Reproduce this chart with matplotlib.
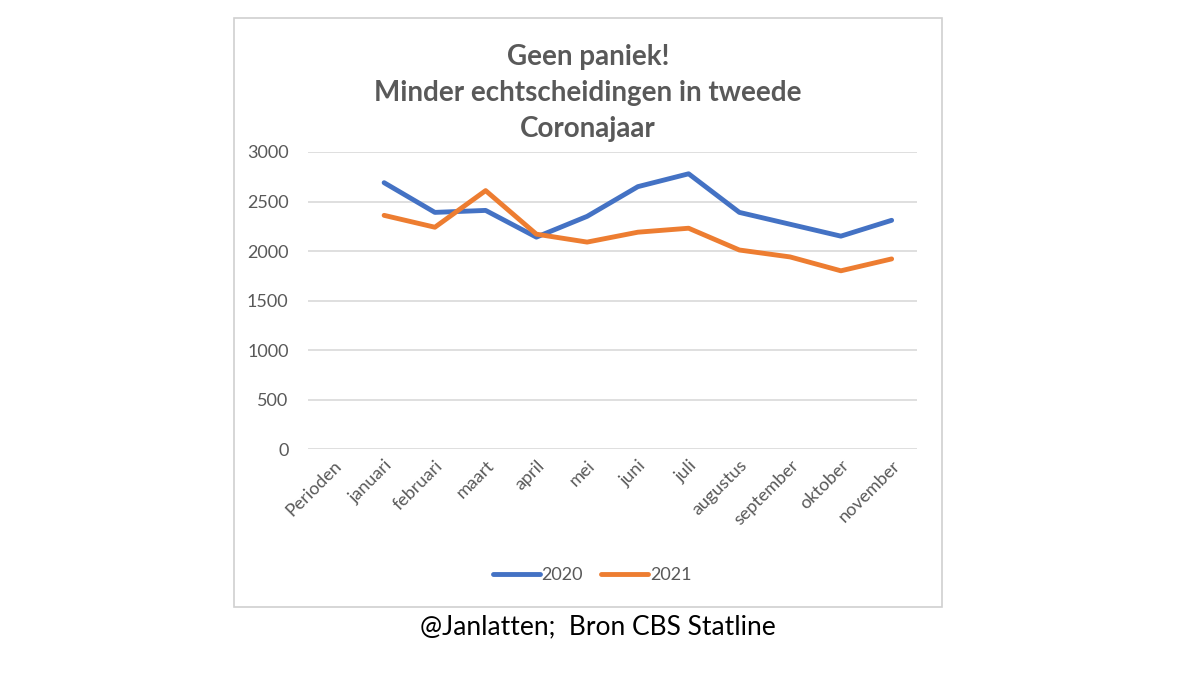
import numpy as np
import matplotlib.pyplot as plt
from matplotlib.patches import Rectangle

# Data (CBS Statline, echtscheidingen per maand)
periods = ["Perioden", "januari", "februari", "maart", "april", "mei", "juni",
           "juli", "augustus", "september", "oktober", "november"]
y2020 = [np.nan, 2690, 2390, 2410, 2140, 2350, 2650, 2780, 2390, 2270, 2150, 2310]
y2021 = [np.nan, 2360, 2240, 2610, 2170, 2090, 2190, 2230, 2010, 1940, 1800, 1920]
yticks = [0, 500, 1000, 1500, 2000, 2500, 3000]

grey = "#595959"
plt.rcParams["font.family"] = ["Lato", "DejaVu Sans"]

fig = plt.figure(figsize=(12, 6.75), dpi=100)

# outer chart box
fig.patches.append(Rectangle((234 / 1200, 1 - 607 / 675), 708 / 1200, 589 / 675,
                             transform=fig.transFigure, fill=False,
                             edgecolor="#d0d0d0", linewidth=1.2))

ax = fig.add_axes([308 / 1200, 1 - 449 / 675, 609 / 1200, 297 / 675])
x = np.arange(len(periods))
ax.plot(x, y2020, color="#4472C4", linewidth=3.5, label="2020", solid_capstyle="round")
ax.plot(x, y2021, color="#ED7D31", linewidth=3.5, label="2021", solid_capstyle="round")

ax.set_xlim(-0.5, len(periods) - 0.5)
ax.set_ylim(0, 3000)
ax.set_yticks(yticks)
ax.set_yticklabels([str(t) for t in yticks], color=grey, fontsize=13)
ax.set_xticks(x)
ax.set_xticklabels(periods, rotation=45, ha="right", rotation_mode="anchor",
                   color=grey, fontsize=13)
ax.tick_params(length=0, pad=6)
ax.tick_params(axis="y", pad=14)
ax.grid(axis="y", color="#d9d9d9", linewidth=1.2)
ax.set_axisbelow(True)
for s in ax.spines.values():
    s.set_visible(False)

fig.text(588 / 1200, 1 - 93 / 675,
         "Geen paniek!\nMinder echtscheidingen in tweede\nCoronajaar",
         ha="center", va="center", fontsize=20, fontweight="bold",
         color=grey, linespacing=1.5)

leg = fig.legend(loc="center", bbox_to_anchor=(592 / 1200, 1 - 575 / 675), ncol=2,
                 frameon=False, fontsize=13, handlelength=2.6, columnspacing=1.0,
                 handletextpad=0.1)
for t in leg.get_texts():
    t.set_color(grey)

fig.text(598 / 1200, 1 - 627 / 675, "@Janlatten;  Bron CBS Statline",
         ha="center", va="center", fontsize=19, color="black")

fig.savefig("out.png", dpi=100)
